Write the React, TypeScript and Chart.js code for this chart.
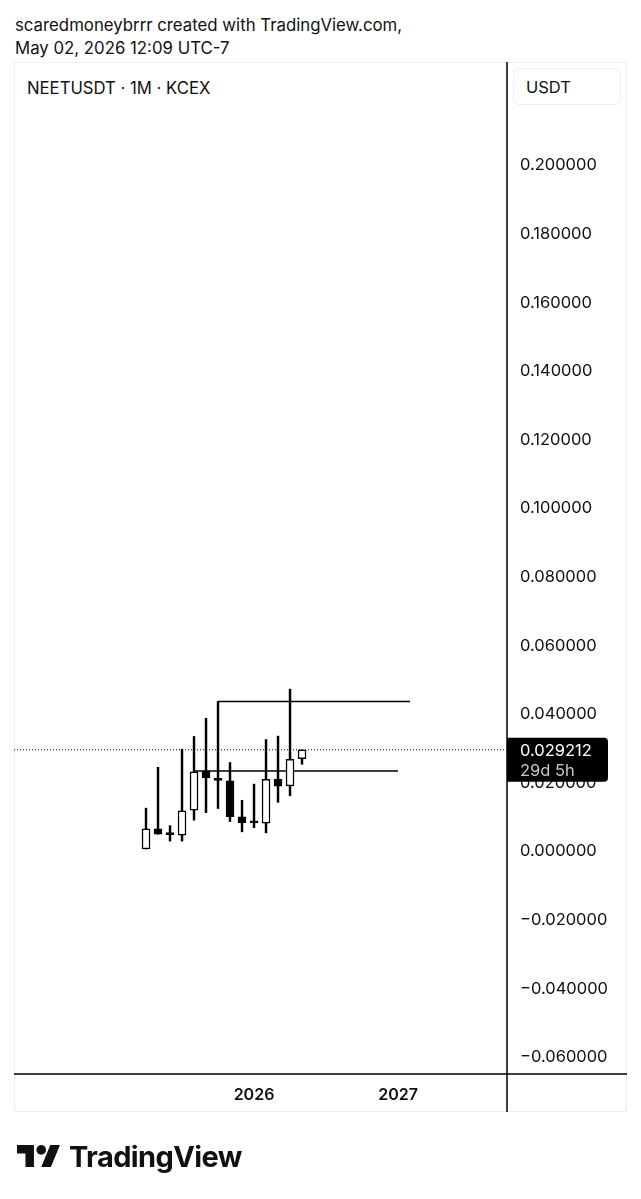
import React, { useEffect, useRef } from "react";
import { Chart, registerables } from "chart.js";

Chart.register(...registerables);

// ---- Data (monthly candles, NEETUSDT 1M, KCEX) ----
const months = [
  "Apr 2025", "May 2025", "Jun 2025", "Jul 2025", "Aug 2025", "Sep 2025", "Oct 2025",
  "Nov 2025", "Dec 2025", "Jan 2026", "Feb 2026", "Mar 2026", "Apr 2026", "May 2026",
];
// months counted from Jan 2026
const monthIndex = [-9, -8, -7, -6, -5, -4, -3, -2, -1, 0, 1, 2, 3, 4];
const opens = [0.0003, 0.0062, 0.0047, 0.0043, 0.0116, 0.0230, 0.0209, 0.0202, 0.0097, 0.0080, 0.0078, 0.0206, 0.0187, 0.0266];
const highs = [0.0122, 0.0241, 0.0071, 0.0294, 0.0331, 0.0384, 0.0433, 0.0255, 0.0145, 0.0192, 0.0322, 0.0332, 0.0469, 0.029212];
const lows = [0.0003, 0.0046, 0.0026, 0.0026, 0.0087, 0.0109, 0.0121, 0.0083, 0.0053, 0.0065, 0.0050, 0.0139, 0.0158, 0.0250];
const closes = [0.0062, 0.0046, 0.0045, 0.0114, 0.0228, 0.0210, 0.0203, 0.0097, 0.0080, 0.0079, 0.0206, 0.0186, 0.0264, 0.029212];

// horizontal rays drawn on the chart: [startMonth, endMonth, price]
const rayStarts = [-3, -5];
const rayEnds = [13, 12];
const rayPrices = [0.0433, 0.0230];

const lastPrice = 0.029212;
const countdown = "29d 5h";

const yTickValues = [-0.06, -0.04, -0.02, 0, 0.02, 0.04, 0.06, 0.08, 0.1, 0.12, 0.14, 0.16, 0.18, 0.2];
const xTickValues = [0, 12];
const xTickLabels = ["2026", "2027"];

const X_MIN = -20;
const X_MAX = 21.08;
const Y_MIN = -0.065306;
const Y_MAX = 0.22974;

const FONT = "Inter, 'Noto Sans', sans-serif";

function fmt(v: number) {
  const s = Math.abs(v).toFixed(6);
  return v < -1e-9 ? "\u2212" + s : s;
}

const framePlugin = {
  id: "frameLines",
  afterDraw(chart: any) {
    const { ctx, chartArea } = chart;
    const xs = chart.scales.x;
    const ys = chart.scales.y;
    ctx.save();
    ctx.strokeStyle = "#000";
    ctx.lineWidth = 1.5;
    ctx.beginPath();
    ctx.moveTo(chartArea.right, chartArea.top);
    ctx.lineTo(chartArea.right, xs.bottom);
    ctx.moveTo(chartArea.left, chartArea.bottom);
    ctx.lineTo(ys.right, chartArea.bottom);
    ctx.stroke();

    // last price label
    const y = ys.getPixelForValue(lastPrice);
    const x0 = chartArea.right;
    ctx.fillStyle = "#000";
    ctx.beginPath();
    (ctx as any).roundRect(x0, y - 12, 101, 44, [0, 4, 4, 0]);
    ctx.fill();
    ctx.textBaseline = "middle";
    ctx.textAlign = "left";
    ctx.font = `16.5px ${FONT}`;
    ctx.fillStyle = "#fff";
    ctx.fillText(fmt(lastPrice), x0 + 13, y + 1.5);
    ctx.fillStyle = "#c8c8c8";
    ctx.fillText(countdown, x0 + 13, y + 21.5);
    ctx.restore();
  },
};

function CandleChart() {
  const ref = useRef<HTMLCanvasElement | null>(null);
  useEffect(() => {
    if (!ref.current) return;
    const bodies = monthIndex.map((m, i) => ({ x: m, y: [opens[i], closes[i]] }));
    const wicks = monthIndex.map((m, i) => ({ x: m, y: [lows[i], highs[i]] }));
    const bodyColors = monthIndex.map((_, i) => (closes[i] >= opens[i] ? "#ffffff" : "#000000"));
    const rays = rayPrices.map((p, i) => ({
      type: "line" as const,
      data: [
        { x: rayStarts[i], y: p },
        { x: rayEnds[i], y: p },
      ],
      borderColor: "#000",
      borderWidth: 1.5,
      pointRadius: 0,
      order: 3,
    }));
    const chart = new Chart(ref.current, {
      type: "bar",
      data: {
        labels: months,
        datasets: [
          {
            type: "bar",
            data: bodies as any,
            backgroundColor: bodyColors,
            borderColor: "#000",
            borderWidth: 1.5,
            borderSkipped: false,
            barThickness: 8,
            minBarLength: 2,
            grouped: false,
            order: 1,
          } as any,
          {
            type: "bar",
            data: wicks as any,
            backgroundColor: "#000",
            borderWidth: 0,
            barThickness: 1.8,
            grouped: false,
            order: 2,
          } as any,
          ...rays,
          {
            type: "line",
            data: [
              { x: X_MIN, y: lastPrice },
              { x: X_MAX, y: lastPrice },
            ],
            borderColor: "#000",
            borderWidth: 1,
            borderDash: [1, 2],
            pointRadius: 0,
            order: 4,
          } as any,
        ],
      },
      options: {
        animation: false,
        responsive: false,
        devicePixelRatio: 1,
        events: [],
        layout: { padding: { left: 14, top: 62, right: 14, bottom: 87 } },
        plugins: { legend: { display: false }, tooltip: { enabled: false } },
        scales: {
          x: {
            type: "linear",
            min: X_MIN,
            max: X_MAX,
            offset: false,
            grid: { display: false, drawTicks: false },
            border: { display: false },
            afterFit: (s: any) => {
              s.height = 38;
            },
            afterBuildTicks: (s: any) => {
              s.ticks = xTickValues.map((v) => ({ value: v }));
            },
            ticks: {
              padding: 12,
              maxRotation: 0,
              autoSkip: false,
              color: "#111",
              font: { family: FONT, size: 16, weight: "600" },
              callback: (v: any) => {
                const i = xTickValues.indexOf(Number(v));
                return i >= 0 ? xTickLabels[i] : "";
              },
            },
          },
          y: {
            type: "linear",
            position: "right",
            min: Y_MIN,
            max: Y_MAX,
            grid: { display: false, drawTicks: false },
            border: { display: false },
            afterFit: (s: any) => {
              s.width = 120;
            },
            afterBuildTicks: (s: any) => {
              s.ticks = yTickValues.map((v) => ({ value: v }));
            },
            ticks: {
              padding: 13,
              labelOffset: 1.5,
              autoSkip: false,
              color: "#111",
              font: { family: FONT, size: 16.5 },
              callback: (v: any) => fmt(Number(v)),
            },
          },
        },
      } as any,
      plugins: [framePlugin],
    });
    return () => chart.destroy();
  }, []);
  return (
    <canvas
      ref={ref}
      width={641}
      height={1199}
      style={{ position: "absolute", left: 0, top: 0, width: 641, height: 1199 }}
    />
  );
}

export default function App() {
  return (
    <div
      style={{
        position: "absolute",
        left: 0,
        top: 0,
        width: 641,
        height: 1199,
        background: "#fff",
        fontFamily: FONT,
        color: "#111",
        overflow: "hidden",
      }}
    >
      <div style={{ position: "absolute", left: 15, top: 14, fontSize: 16.8, lineHeight: "23px" }}>
        <div>scaredmoneybrrr created with TradingView.com,</div>
        <div>May 02, 2026 12:09 UTC-7</div>
      </div>
      <div
        style={{
          position: "absolute",
          left: 14,
          top: 62,
          width: 611,
          height: 1048,
          border: "1px solid #eeeeee",
        }}
      />
      <div style={{ position: "absolute", left: 27, top: 78, fontSize: 16.7, lineHeight: "20px" }}>
        NEETUSDT · 1M · KCEX
      </div>
      <div
        style={{
          position: "absolute",
          left: 513,
          top: 68,
          width: 106,
          height: 35,
          border: "1px solid #eeeeee",
          borderRadius: 6,
          boxSizing: "content-box",
        }}
      >
        <div style={{ position: "absolute", left: 12, top: 8, fontSize: 16.5, lineHeight: "20px" }}>USDT</div>
      </div>
      <CandleChart />
      <div style={{ position: "absolute", left: 17, top: 1145, display: "flex", alignItems: "center" }}>
        <svg width={43} height={22} viewBox="0 4 35.5 18">
          <path d="M14 22H7V11H0V4h14v18zM28 22h-8l7.5-18h8L28 22z" fill="#111" />
          <circle cx={20} cy={8} r={4} fill="#111" />
        </svg>
      </div>
      <div
        style={{
          position: "absolute",
          left: 69,
          top: 1140,
          fontSize: 29,
          fontWeight: 700,
          lineHeight: "34px",
          letterSpacing: "-0.6px",
          color: "#111",
        }}
      >
        TradingView
      </div>
    </div>
  );
}
